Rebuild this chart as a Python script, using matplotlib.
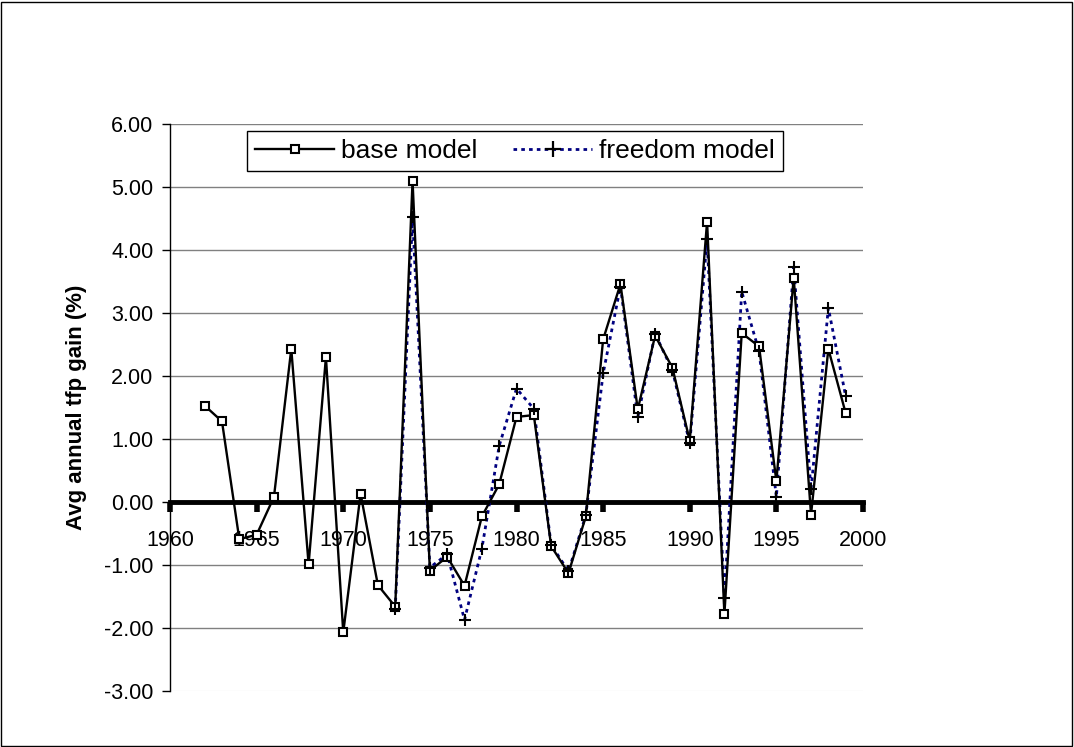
import matplotlib
matplotlib.use("Agg")
import matplotlib.pyplot as plt
from matplotlib.patches import Rectangle
from matplotlib.lines import Line2D

plt.rcParams['font.family'] = ['Liberation Sans', 'DejaVu Sans']

base_years = list(range(1962, 2000))
base_vals = [1.53, 1.28, -0.59, -0.52, 0.08, 2.43, -0.99, 2.30, -2.07, 0.13,
             -1.32, -1.66, 5.10, -1.09, -0.87, -1.33, -0.23, 0.28, 1.35, 1.38,
             -0.70, -1.13, -0.23, 2.58, 3.46, 1.47, 2.64, 2.13, 0.97, 4.45,
             -1.78, 2.68, 2.47, 0.33, 3.56, -0.20, 2.43, 1.41]

free_years = list(range(1973, 2000))
free_vals = [-1.70, 4.52, -1.04, -0.83, -1.87, -0.74, 0.89, 1.80, 1.48, -0.68,
             -1.10, -0.21, 2.04, 3.42, 1.35, 2.67, 2.09, 0.93, 4.17, -1.53,
             3.34, 2.39, 0.08, 3.73, 0.20, 3.08, 1.68]

x_ticks = [1960, 1965, 1970, 1975, 1980, 1985, 1990, 1995, 2000]
y_ticks = [-3, -2, -1, 0, 1, 2, 3, 4, 5, 6]
y_label = "Avg annual tfp gain (%)"

fig = plt.figure(figsize=(10.74, 7.47), dpi=100)
ax = fig.add_axes([170/1074, 1-691/747, (863-170)/1074, (691-124)/747])

ax.set_xlim(1960, 2000)
ax.set_ylim(-3, 6)

for yv in y_ticks:
    if yv == 0:
        continue
    ax.axhline(yv, color='#808080' if yv != -3 else '#f0f0f0', lw=1.0, zorder=1)

free_style = dict(color='#000080', lw=2.0, ls=(0, (1.3, 1.5)))
ax.plot(free_years, free_vals, zorder=3, **free_style)
ax.plot(base_years, base_vals, color='black', lw=1.7, marker='s',
        markersize=5.2, markerfacecolor='white', markeredgecolor='black',
        markeredgewidth=1.5, zorder=4)
ax.plot(free_years, free_vals, ls='none', marker='+', markersize=9,
        markeredgewidth=1.5, color='black', zorder=5)

ax.spines['top'].set_visible(False)
ax.spines['right'].set_visible(False)
ax.spines['left'].set_linewidth(1.0)
ax.spines['bottom'].set_position(('data', 0))
ax.spines['bottom'].set_linewidth(3.5)
ax.spines['bottom'].set_zorder(2)

ax.set_xticks(x_ticks)
ax.set_xticklabels([str(t) for t in x_ticks], fontsize=15.5)
ax.set_yticks(y_ticks)
ax.set_yticklabels([f"{v:.2f}" for v in y_ticks], fontsize=15.5)
ax.tick_params(axis='x', direction='out', length=7.5, width=4, pad=13)
ax.tick_params(axis='y', direction='out', length=6, width=1.0, pad=6)

ax.set_ylabel(y_label, fontsize=16, fontweight='bold', labelpad=12)

h1 = Line2D([], [], color='black', lw=1.7, marker='s', markersize=5.2,
            markerfacecolor='white', markeredgecolor='black', markeredgewidth=1.5)
h2 = Line2D([], [], marker='+', markersize=12, markeredgewidth=1.6,
            markeredgecolor='black', **free_style)
leg = fig.legend([h1, h2], ['base model', 'freedom model'], ncol=2,
                 loc='upper left', bbox_to_anchor=(247/1074, 1-131/747),
                 borderaxespad=0, fontsize=19, frameon=True, fancybox=False,
                 edgecolor='black', framealpha=1, handlelength=3.0,
                 handletextpad=0.27, columnspacing=1.35, borderpad=0.3)
leg.get_frame().set_linewidth(1.0)

fig.patches.append(Rectangle((1/1074, 1/747), 1-3/1074, 1-3/747,
                             transform=fig.transFigure,
                             fill=False, edgecolor='black', lw=1.0))

fig.savefig('out.png', dpi=100)
